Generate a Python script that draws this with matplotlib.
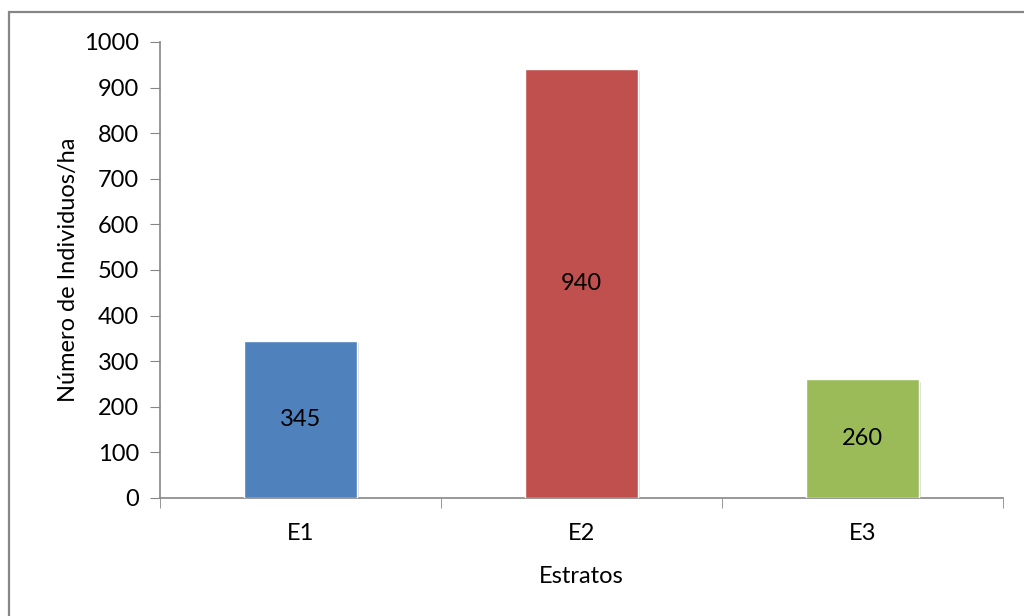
import matplotlib
matplotlib.use("Agg")
import matplotlib.pyplot as plt
import matplotlib.patheffects as pe
from matplotlib.patches import Rectangle

estratos = ["E1", "E2", "E3"]
individuos = [345, 940, 260]
colores = ["#4F81BD", "#C0504D", "#9BBB59"]
yticks = [0, 100, 200, 300, 400, 500, 600, 700, 800, 900, 1000]

plt.rcParams['font.family'] = ['Lato', 'DejaVu Sans']

fig = plt.figure(figsize=(10.24, 6.16), dpi=100)
ax = fig.add_axes([160 / 1024, 1 - 498 / 616, (1003 - 160) / 1024, (498 - 42) / 616])

# outer chart frame (runs past the right and bottom edges)
fig.patches.append(Rectangle((8.5 / 1024, -0.05), 1.1, 1.05 - 12 / 616,
                             transform=fig.transFigure, fill=False,
                             edgecolor="#868686", linewidth=1.6))

x = list(range(len(estratos)))
bars = ax.bar(x, individuos, width=0.4, color=colores, edgecolor="white", linewidth=1,
              zorder=3)
for b in bars:
    b.set_path_effects([pe.SimplePatchShadow(offset=(1.5, -1.5), shadow_rgbFace="#999999",
                                             alpha=0.35), pe.Normal()])

for xi, v in zip(x, individuos):
    ax.text(xi, v / 2, str(v), ha="center", va="center", fontsize=17, color="black", zorder=4)

ax.set_xlim(-0.5, len(estratos) - 0.5)
ax.set_ylim(0, 1000)
ax.set_yticks(yticks)
ax.set_xticks(x)
ax.set_xticklabels(estratos)
ax.set_xticks([i - 0.5 for i in range(len(estratos) + 1)], minor=True)

for s in ["top", "right"]:
    ax.spines[s].set_visible(False)
for s in ["left", "bottom"]:
    ax.spines[s].set_color("#868686")
    ax.spines[s].set_linewidth(1.2)

ax.tick_params(axis="y", which="major", direction="out", length=7, color="#868686",
               labelsize=17, pad=8)
ax.tick_params(axis="x", which="major", length=0, labelsize=17, pad=18)
ax.tick_params(axis="x", which="minor", direction="out", length=7, color="#868686")

ax.set_ylabel("Número de Individuos/ha", fontsize=17, labelpad=4)
ax.set_xlabel("Estratos", fontsize=17, labelpad=16)

fig.savefig("out.png", dpi=100)
